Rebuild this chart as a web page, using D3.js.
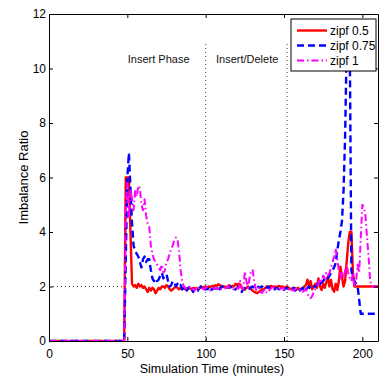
<!DOCTYPE html>
<html>
<head>
<meta charset="utf-8">
<script src="https://cdn.jsdelivr.net/npm/d3@7"></script>
<style>
  html, body { margin: 0; padding: 0; background: #fff; }
  svg { display: block; font-family: "Liberation Sans", Arial, sans-serif; }
</style>
</head>
<body>
<svg id="chart" width="380" height="380"></svg>
<script>
// sample times (minutes); flat at zero from 0 to 48
const minutes = [0,
  48, 49, 50, 51, 52, 53, 54, 55, 56, 57,
  58, 59, 60, 61, 62, 63, 64, 65, 66, 67,
  68, 69, 70, 71, 72, 73, 74, 75, 76, 77,
  78, 79, 80, 81, 82, 83, 84, 85, 86, 87,
  88, 89, 90, 91, 92, 93, 94, 95, 96, 97,
  98, 99, 100, 101, 102, 103, 104, 105, 106, 107,
  108, 109, 110, 111, 112, 113, 114, 115, 116, 117,
  118, 119, 120, 121, 122, 123, 124, 125, 126, 127,
  128, 129, 130, 131, 132, 133, 134, 135, 136, 137,
  138, 139, 140, 141, 142, 143, 144, 145, 146, 147,
  148, 149, 150, 151, 152, 153, 154, 155, 156, 157,
  158, 159, 160, 161, 162, 163, 164, 165, 166, 167,
  168, 169, 170, 171, 172, 173, 174, 175, 176, 177,
  178, 179, 180, 181, 182, 183, 184, 185, 186, 187,
  188, 189, 190, 191, 192, 193, 194, 195, 196, 197,
  198, 199, 200, 201, 202, 203, 204, 205, 206, 207,
  208, 209, 210];

const zipf05 = [0,
  0, 6.0, 6.0, 6.0, 4.0, 2.1, 2.0, 2.05, 1.95, 2.1,
  2.0, 2.05, 1.95, 2.0, 1.9, 1.8, 1.95, 1.85, 1.95, 1.9,
  1.75, 1.85, 1.95, 1.9, 2.0, 2.0, 1.95, 2.05, 2.0, 1.9,
  1.85, 1.9, 1.95, 2.0, 1.95, 1.9, 1.95, 1.9, 1.95, 1.9,
  1.92, 1.95, 1.93, 1.9, 1.95, 1.92, 1.95, 1.9, 1.93, 2.0,
  1.95, 1.98, 2.0, 1.95, 2.0, 1.98, 2.02, 2.0, 2.05, 2.0,
  2.08, 2.05, 2.02, 1.98, 2.0, 1.95, 2.0, 2.05, 1.98, 2.02,
  2.0, 2.1, 2.05, 2.1, 2.08, 1.95, 1.9, 1.88, 1.95, 2.0,
  1.95, 1.9, 1.85, 1.8, 1.78, 1.76, 1.8, 1.85, 1.9, 1.87,
  1.95, 2.0, 1.98, 2.0, 2.02, 1.98, 2.0, 1.95, 2.0, 2.02,
  1.98, 2.0, 1.95, 1.98, 2.0, 1.95, 1.9, 1.92, 1.88, 1.95,
  1.9, 1.95, 1.88, 1.92, 1.95, 2.0, 2.05, 2.25, 2.0, 2.2,
  1.9, 2.0, 2.1, 1.95, 2.3, 2.0, 1.87, 2.1, 1.95, 2.15,
  2.36, 2.0, 2.24, 1.9, 1.81, 2.1, 1.87, 2.2, 2.73, 2.36,
  2.0, 2.2, 2.9, 3.6, 4.0, 4.0, 2.5, 2.0, 2.0, 2.0,
  2.0, 2.0, 2.0, 2.0, 2.0, 2.0, 2.0, 2.0, 2.0, 2.0,
  2.0, 2.0, 2.0];

const zipf075 = [0,
  0, 3.0, 6.0, 6.9, 5.6, 4.3, 3.5, 3.3, 3.2, 3.1,
  2.9, 2.7, 3.0, 3.1, 2.9, 3.0, 3.0, 2.6, 2.3, 2.2,
  2.3, 2.2, 2.25, 2.4, 2.5, 2.3, 2.4, 2.45, 2.2, 2.0,
  2.05, 2.2, 2.15, 2.0, 2.1, 2.0, 2.05, 1.9, 1.95, 2.0,
  1.85, 1.95, 2.0, 1.9, 1.8, 1.95, 1.9, 1.85, 1.95, 2.0,
  1.9, 1.85, 1.95, 1.9, 1.95, 2.0, 1.88, 1.95, 1.92, 2.0,
  1.95, 1.9, 1.98, 2.0, 1.95, 1.92, 1.98, 1.95, 2.0, 1.9,
  1.85, 1.9, 1.95, 2.0, 1.92, 1.8, 1.9, 1.95, 2.0, 1.95,
  1.92, 1.98, 2.0, 1.95, 2.0, 2.02, 1.95, 1.98, 2.0, 1.95,
  1.9, 1.95, 2.0, 1.92, 1.95, 1.98, 1.9, 1.95, 1.92, 1.9,
  1.95, 1.9, 1.88, 1.92, 1.95, 1.9, 1.88, 1.92, 1.95, 1.85,
  1.9, 1.8, 1.85, 1.9, 1.95, 1.82, 1.9, 1.95, 2.0, 1.9,
  1.95, 2.0, 2.0, 2.05, 2.18, 2.1, 2.15, 2.2, 2.3, 2.36,
  2.3, 2.4, 2.5, 2.6, 2.7, 2.86, 3.3, 3.7, 4.0, 4.4,
  5.5, 7.5, 10.8, 10.9, 10.8, 2.6, 2.3, 2.2, 2.1, 2.0,
  1.5, 1.0, 1.0, 1.0, 1.0, 1.0, 1.0, 1.0, 1.0, 1.0,
  1.0, 1.0, 1.0];

const zipf1 = [0,
  0, 5.0, 5.8, 4.5, 5.6, 5.2, 4.8, 5.5, 5.3, 5.7,
  5.6, 5.0, 4.8, 5.2, 4.6, 4.3, 4.2, 3.5, 3.2, 3.0,
  2.9, 2.8, 2.7, 2.6, 2.8, 2.5, 2.6, 2.9, 3.0, 3.2,
  3.4, 3.5, 3.7, 3.8, 3.75, 3.3, 2.6, 2.2, 2.0, 1.95,
  1.9, 1.95, 2.0, 1.92, 1.9, 1.85, 1.95, 2.0, 1.9, 1.95,
  1.92, 1.9, 1.95, 1.98, 1.9, 1.85, 1.9, 1.95, 1.92, 1.9,
  1.95, 1.98, 1.9, 1.88, 1.92, 1.95, 2.0, 1.95, 1.9, 1.92,
  1.88, 1.9, 1.95, 1.92, 2.2, 2.0, 1.9, 2.55, 2.2, 1.95,
  2.3, 2.6, 2.6, 2.2, 1.9, 1.85, 1.95, 1.8, 1.76, 1.85,
  1.9, 1.76, 1.8, 1.9, 1.95, 1.98, 1.92, 1.9, 1.95, 1.88,
  1.92, 1.95, 1.9, 1.88, 1.92, 1.9, 1.95, 1.88, 1.85, 1.9,
  1.92, 1.88, 1.85, 1.9, 1.81, 1.85, 1.9, 1.75, 1.6, 1.57,
  1.65, 1.8, 1.9, 2.0, 2.1, 2.3, 2.2, 2.4, 2.3, 2.5,
  2.4, 2.5, 2.7, 2.9, 3.1, 3.4, 3.0, 2.6, 2.3, 2.5,
  2.3, 2.6, 2.8, 2.5, 2.3, 2.2, 2.5, 2.0, 2.2, 2.8,
  2.5, 3.8, 5.0, 4.9, 4.6, 3.8, 3.1, 2.2, 2.0, 2.0,
  2.0, 2.0, 2.0];

const seriesNames = ["zipf 0.5", "zipf 0.75", "zipf 1"];
const seriesColors = ["#ff0000", "#0000ff", "#ff00ff"];
const seriesDash = [null, "7,4", "7,3,1.5,3"];
const seriesWidth = [2.4, 2.4, 2];
const seriesValues = [zipf05, zipf075, zipf1];

const xTicks = [0, 50, 100, 150, 200];
const yTicks = [0, 2, 4, 6, 8, 10, 12];
const phaseBounds = [100, 152];
const phaseLabels = [{ t: 70, text: "Insert Phase" }, { t: 126.5, text: "Insert/Delete" }];
const balanceLevel = 2;

const svg = d3.select("#chart");
const plotLeft = 49, plotRight = 378, plotTop = 14, plotBottom = 341;

const x = d3.scaleLinear().domain([0, 210]).range([plotLeft, plotRight]);
const y = d3.scaleLinear().domain([0, 12]).range([plotBottom, plotTop]);

// reference guides (dotted)
const guides = svg.append("g").attr("stroke", "#444").attr("stroke-width", 1)
  .attr("stroke-dasharray", "1,3");
phaseBounds.forEach(b => {
  guides.append("line")
    .attr("x1", x(b)).attr("x2", x(b))
    .attr("y1", y(0)).attr("y2", y(11));
});
guides.append("line")
  .attr("x1", x(0)).attr("x2", x(47))
  .attr("y1", y(balanceLevel)).attr("y2", y(balanceLevel));

// phase labels
svg.append("g").selectAll("text").data(phaseLabels).join("text")
  .attr("x", d => x(d.t)).attr("y", y(10.2))
  .attr("text-anchor", "middle")
  .attr("font-size", 11)
  .attr("fill", "#111")
  .text(d => d.text);

// lines
svg.append("clipPath").attr("id", "clip").append("rect")
  .attr("x", plotLeft).attr("y", plotTop)
  .attr("width", plotRight - plotLeft).attr("height", plotBottom - plotTop);

const line = d3.line().x((d, i) => x(minutes[i])).y(d => y(d));
svg.append("g").attr("clip-path", "url(#clip)")
  .selectAll("path").data(seriesValues).join("path")
  .attr("d", d => line(d))
  .attr("fill", "none")
  .attr("stroke", (d, i) => seriesColors[i])
  .attr("stroke-width", (d, i) => seriesWidth[i])
  .attr("stroke-dasharray", (d, i) => seriesDash[i])
  .attr("stroke-linejoin", "round");

// axes (box with inward ticks)
function styleAxis(g) {
  g.selectAll("path, line").attr("stroke", "#000");
  g.selectAll("text").attr("fill", "#000").attr("font-size", 12);
}
svg.append("g").attr("transform", `translate(0,${plotBottom})`)
  .call(d3.axisBottom(x).tickValues(xTicks).tickSize(-4).tickSizeOuter(0).tickPadding(8))
  .call(styleAxis);
svg.append("g").attr("transform", `translate(0,${plotTop})`)
  .call(d3.axisTop(x).tickValues(xTicks).tickSize(-4).tickSizeOuter(0).tickFormat(""))
  .call(styleAxis);
svg.append("g").attr("transform", `translate(${plotLeft},0)`)
  .call(d3.axisLeft(y).tickValues(yTicks).tickSize(-4).tickSizeOuter(0).tickPadding(3))
  .call(styleAxis);
svg.append("g").attr("transform", `translate(${plotRight},0)`)
  .call(d3.axisRight(y).tickValues(yTicks).tickSize(-4).tickSizeOuter(0).tickFormat(""))
  .call(styleAxis);
svg.selectAll(".domain").attr("stroke-width", 1);

// axis titles
svg.append("text")
  .attr("x", 212).attr("y", 373)
  .attr("text-anchor", "middle").attr("font-size", 12.5)
  .text("Simulation Time (minutes)");
svg.append("text")
  .attr("transform", `translate(28,${(plotTop + plotBottom) / 2}) rotate(-90)`)
  .attr("text-anchor", "middle").attr("font-size", 13)
  .text("Imbalance Ratio");

// legend
const lg = svg.append("g").attr("transform", "translate(291,19)");
lg.append("rect").attr("width", 85).attr("height", 52)
  .attr("fill", "#fff").attr("stroke", "#000").attr("stroke-width", 1);
const items = lg.selectAll("g.item").data(seriesNames).join("g")
  .attr("class", "item")
  .attr("transform", (d, i) => `translate(0,${11.5 + i * 15})`);
items.append("line")
  .attr("x1", 6).attr("x2", 36).attr("y1", 0).attr("y2", 0)
  .attr("stroke", (d, i) => seriesColors[i])
  .attr("stroke-width", (d, i) => seriesWidth[i])
  .attr("stroke-dasharray", (d, i) => seriesDash[i]);
items.append("text")
  .attr("x", 39).attr("y", 0).attr("dy", "0.35em")
  .attr("font-size", 12)
  .text(d => d);
</script>
</body>
</html>
